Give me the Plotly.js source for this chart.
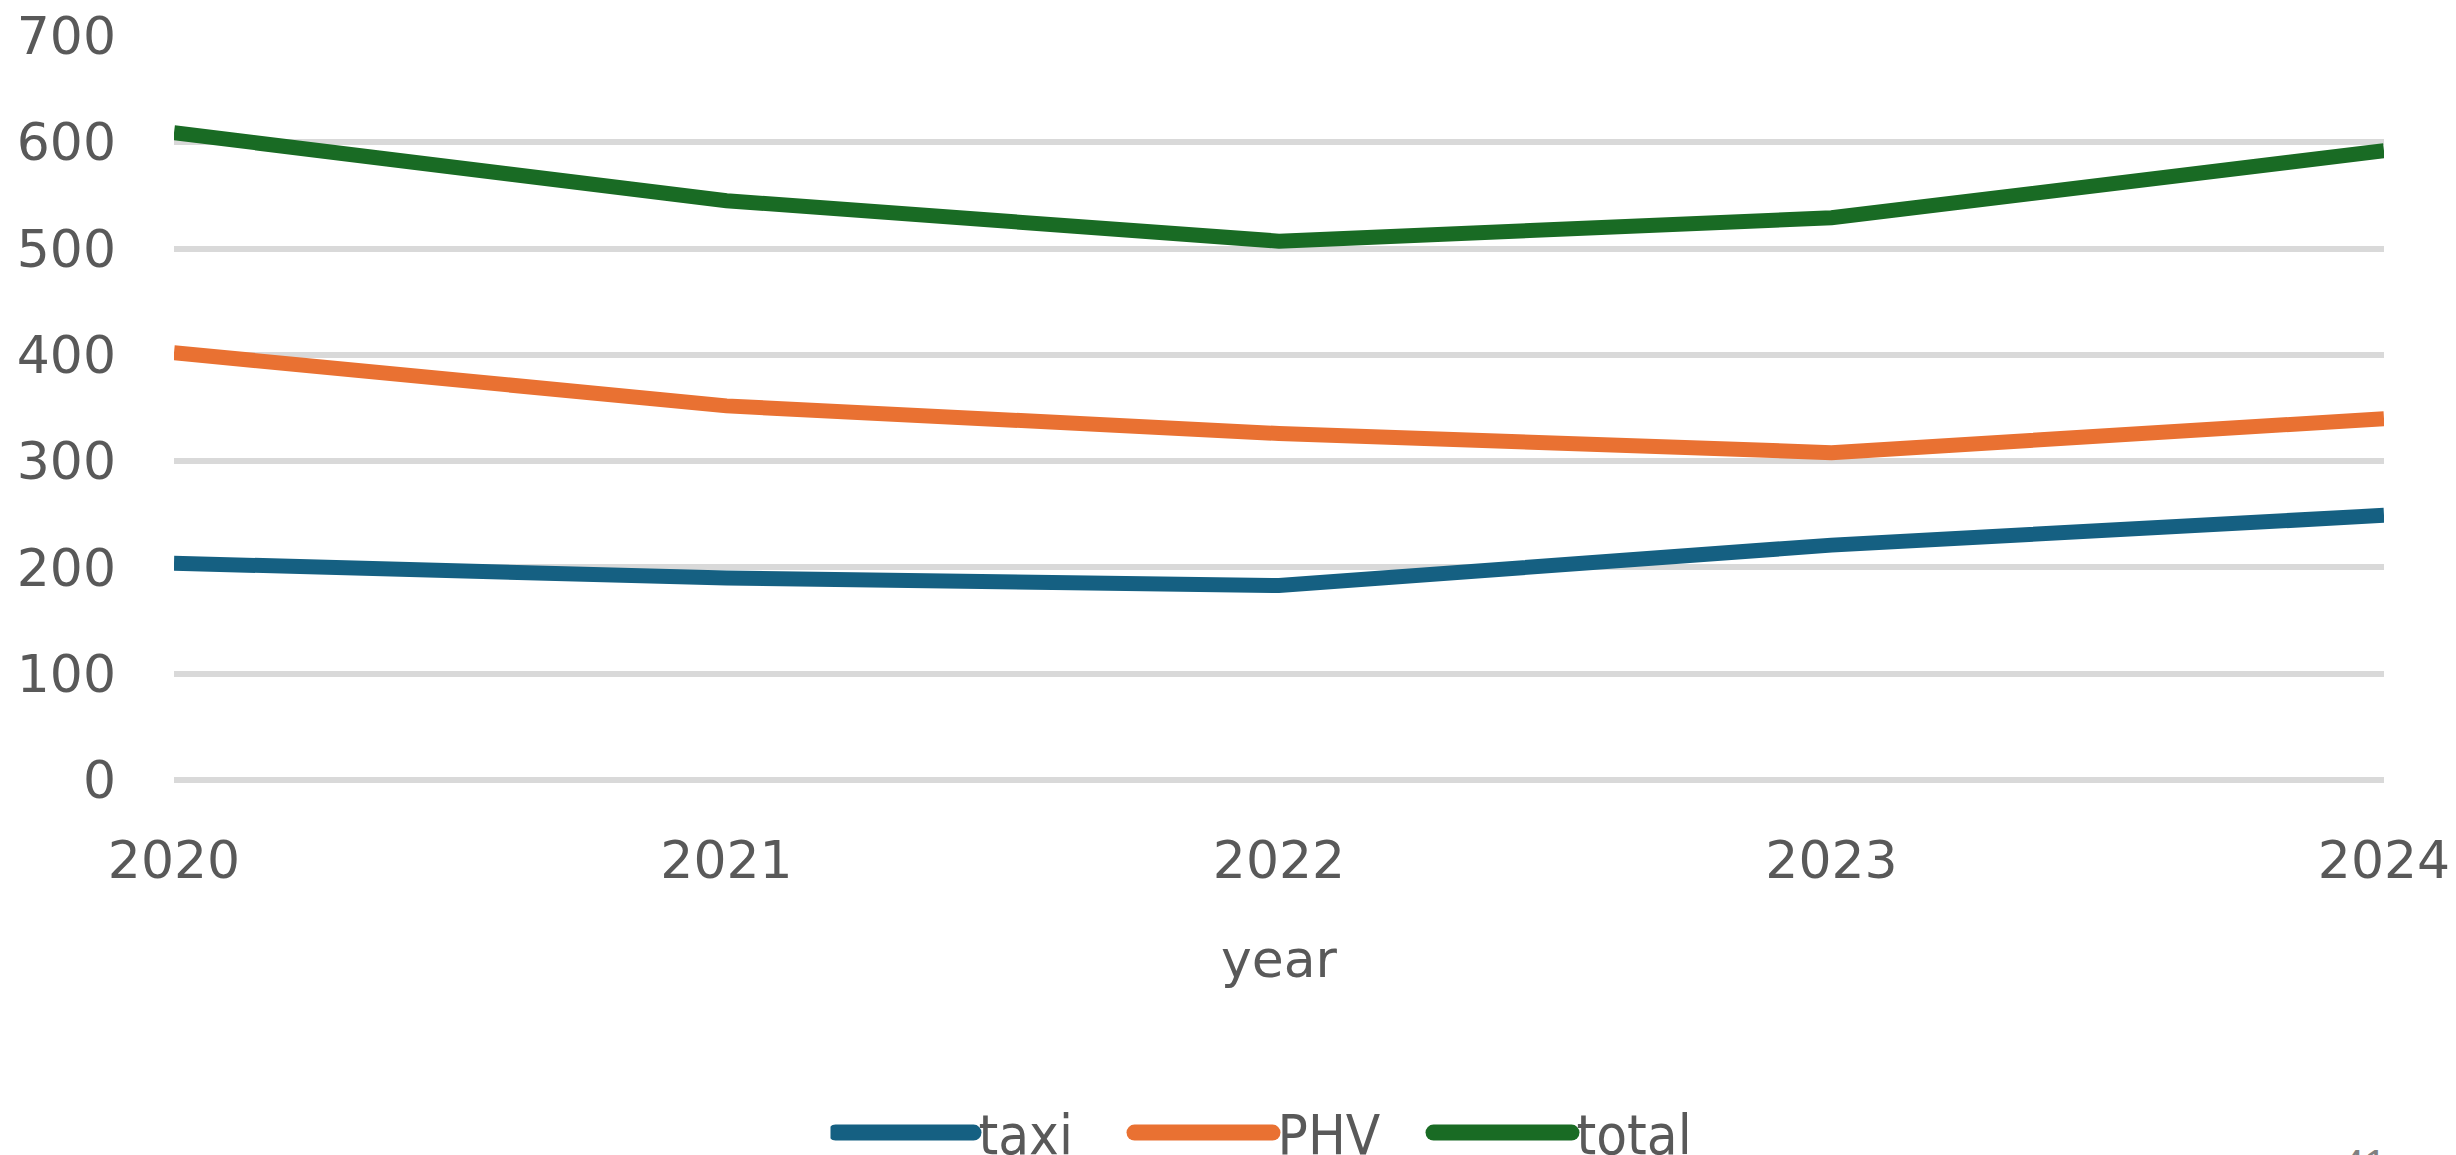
<!DOCTYPE html>
<html>
<head>
<meta charset="utf-8">
<script src="https://cdn.plot.ly/plotly-3.0.1.min.js"></script>
<style>
html, body { margin: 0; padding: 0; background: #ffffff; }
#chart { width: 2456px; height: 1155px; }
#chart .legend .legendlines path { stroke-width: 16px !important; stroke-linecap: round; }
</style>
</head>
<body>
<div id="chart"></div>
<script>
const years = [2020, 2021, 2022, 2023, 2024];
const yearLabels = ["2020", "2021", "2022", "2023", "2024"];
const taxi = [204, 190, 183, 221, 249];
const phv = [402, 352, 326, 308, 340];
const total = [609, 545, 507, 529, 592];
const yTicks = [0, 100, 200, 300, 400, 500, 600, 700];
const seriesNames = ["taxi", "PHV", "total"];
const seriesColors = ["#156082", "#E97132", "#196B24"];
const pageNumber = "41";

const seriesValues = [taxi, phv, total];
const traces = seriesValues.map((vals, i) => ({
  type: "scatter",
  mode: "lines",
  x: years,
  y: vals,
  name: seriesNames[i],
  line: { color: seriesColors[i], width: 15 },
  hoverinfo: "skip"
}));

const tickFont = { family: "DejaVu Sans, Liberation Sans, sans-serif", size: 52, color: "#595959" };

const layout = {
  width: 2456,
  height: 1155,
  paper_bgcolor: "#ffffff",
  plot_bgcolor: "#ffffff",
  margin: { l: 174, r: 72, t: 36, b: 375, autoexpand: false },
  showlegend: true,
  legend: {
    orientation: "h",
    x: 0.5,
    xanchor: "center",
    y: -0.474,
    yanchor: "middle",
    itemwidth: 138,
    entrywidth: 146,
    font: { family: "Liberation Sans Narrow, DejaVu Sans Condensed, sans-serif", size: 56, color: "#595959" },
    bgcolor: "rgba(0,0,0,0)"
  },
  xaxis: {
    range: [2020, 2024],
    tickvals: years,
    ticktext: yearLabels,
    tickfont: tickFont,
    showgrid: false,
    zeroline: false,
    showline: false,
    ticks: "",
    ticklabelstandoff: 45,
    fixedrange: true,
    title: { text: "year", font: tickFont, standoff: 51 }
  },
  yaxis: {
    range: [0, 700],
    tickvals: yTicks,
    tickfont: tickFont,
    showgrid: true,
    gridcolor: "#D9D9D9",
    gridwidth: 6,
    zeroline: true,
    zerolinecolor: "#D9D9D9",
    zerolinewidth: 6,
    showline: false,
    ticks: "",
    ticklabelstandoff: 57,
    fixedrange: true
  },
  annotations: [{
    text: pageNumber,
    xref: "paper",
    yref: "paper",
    x: 0.991,
    y: -0.4835,
    xanchor: "center",
    yanchor: "top",
    showarrow: false,
    font: { family: "Liberation Sans, sans-serif", size: 40, color: "#808080" }
  }]
};

Plotly.newPlot("chart", traces, layout, { staticPlot: true, displayModeBar: false });
</script>
</body>
</html>
